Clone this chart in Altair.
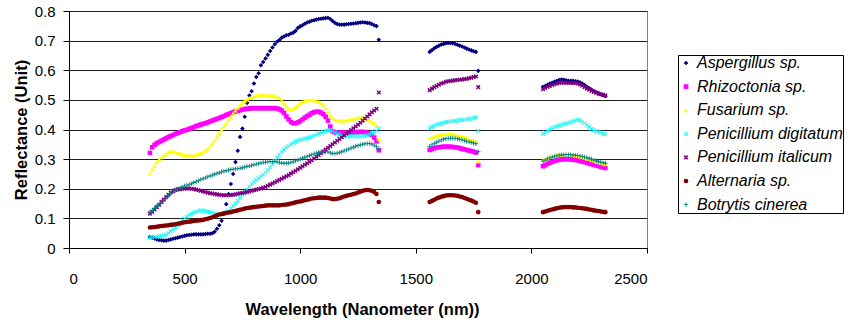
import altair as alt
import pandas as pd

# Spectral bands kept after removing the water-absorption regions
wl_vis = list(range(350, 1341, 10))     # 350-1340 nm
wl_swir1 = list(range(1560, 1771, 10))  # 1560-1770 nm
wl_swir2 = list(range(2050, 2321, 10))  # 2050-2320 nm

series_names = [
    "Aspergillus sp.",
    "Rhizoctonia sp.",
    "Fusarium sp.",
    "Penicillium digitatum",
    "Penicillium italicum",
    "Alternaria sp.",
    "Botrytis cinerea",
]

# Reflectance per fungus, one list per band
aspergillus_vis = [
    0.037, 0.035, 0.032, 0.029, 0.027, 0.026, 0.025, 0.025, 0.027, 0.029,
    0.031, 0.033, 0.035, 0.037, 0.039, 0.041, 0.043, 0.044, 0.045, 0.046,
    0.046, 0.046, 0.046, 0.046, 0.047, 0.048, 0.048, 0.050, 0.055, 0.065,
    0.077, 0.092, 0.115, 0.148, 0.182, 0.216, 0.250, 0.290, 0.328, 0.375,
    0.403, 0.443, 0.490, 0.515, 0.529, 0.555, 0.577, 0.590, 0.617, 0.628,
    0.640, 0.652, 0.665, 0.677, 0.688, 0.696, 0.702, 0.710, 0.714, 0.718,
    0.720, 0.724, 0.727, 0.733, 0.743, 0.748, 0.752, 0.757, 0.761, 0.764,
    0.767, 0.769, 0.771, 0.773, 0.774, 0.775, 0.776, 0.777, 0.773, 0.766,
    0.760, 0.756, 0.754, 0.754, 0.754, 0.755, 0.756, 0.757, 0.758, 0.759,
    0.760, 0.761, 0.762, 0.761, 0.760, 0.759, 0.756, 0.752, 0.749, 0.703,
]
aspergillus_swir1 = [
    0.662, 0.668, 0.674, 0.679, 0.683, 0.687, 0.689, 0.691, 0.692, 0.692,
    0.691, 0.689, 0.686, 0.683, 0.680, 0.677, 0.673, 0.670, 0.667, 0.664,
    0.662, 0.598,
]
aspergillus_swir2 = [
    0.544, 0.547, 0.551, 0.555, 0.558, 0.561, 0.564, 0.567, 0.569, 0.568,
    0.566, 0.564, 0.564, 0.564, 0.563, 0.562, 0.559, 0.555, 0.550, 0.544,
    0.539, 0.535, 0.530, 0.526, 0.522, 0.519, 0.516, 0.513,
]

rhizoctonia_vis = [
    0.321, 0.340, 0.348, 0.354, 0.358, 0.362, 0.366, 0.370, 0.374, 0.378,
    0.381, 0.385, 0.388, 0.391, 0.394, 0.397, 0.399, 0.402, 0.405, 0.408,
    0.411, 0.414, 0.417, 0.419, 0.421, 0.424, 0.427, 0.430, 0.433, 0.436,
    0.439, 0.442, 0.445, 0.449, 0.452, 0.455, 0.458, 0.461, 0.463, 0.465,
    0.467, 0.469, 0.470, 0.471, 0.472, 0.472, 0.472, 0.472, 0.472, 0.472,
    0.472, 0.472, 0.472, 0.472, 0.472, 0.471, 0.468, 0.464, 0.456, 0.444,
    0.434, 0.425, 0.421, 0.421, 0.424, 0.428, 0.434, 0.440, 0.445, 0.450,
    0.455, 0.458, 0.460, 0.460, 0.457, 0.452, 0.443, 0.430, 0.410, 0.394,
    0.390, 0.389, 0.389, 0.389, 0.389, 0.389, 0.389, 0.389, 0.389, 0.390,
    0.391, 0.392, 0.392, 0.391, 0.389, 0.386, 0.381, 0.373, 0.360, 0.330,
]
rhizoctonia_swir1 = [
    0.331, 0.334, 0.337, 0.339, 0.340, 0.341, 0.342, 0.342, 0.342, 0.342,
    0.341, 0.340, 0.339, 0.337, 0.335, 0.333, 0.331, 0.329, 0.327, 0.325,
    0.322, 0.280,
]
rhizoctonia_swir2 = [
    0.276, 0.280, 0.284, 0.288, 0.291, 0.294, 0.296, 0.298, 0.299, 0.300,
    0.300, 0.300, 0.299, 0.298, 0.297, 0.296, 0.294, 0.292, 0.290, 0.288,
    0.285, 0.283, 0.281, 0.279, 0.277, 0.274, 0.272, 0.270,
]

fusarium_vis = [
    0.251, 0.265, 0.278, 0.290, 0.299, 0.306, 0.312, 0.317, 0.322, 0.325,
    0.326, 0.325, 0.322, 0.319, 0.316, 0.314, 0.313, 0.313, 0.313, 0.314,
    0.315, 0.317, 0.320, 0.324, 0.329, 0.335, 0.343, 0.353, 0.364, 0.376,
    0.388, 0.399, 0.410, 0.421, 0.432, 0.443, 0.454, 0.464, 0.473, 0.481,
    0.489, 0.496, 0.502, 0.506, 0.509, 0.512, 0.514, 0.516, 0.517, 0.517,
    0.517, 0.516, 0.515, 0.514, 0.512, 0.509, 0.507, 0.498, 0.488, 0.478,
    0.470, 0.467, 0.470, 0.476, 0.483, 0.489, 0.494, 0.497, 0.499, 0.500,
    0.500, 0.499, 0.497, 0.494, 0.490, 0.484, 0.473, 0.460, 0.448, 0.438,
    0.433, 0.431, 0.430, 0.430, 0.430, 0.431, 0.432, 0.434, 0.436, 0.438,
    0.440, 0.440, 0.439, 0.437, 0.434, 0.431, 0.426, 0.420, 0.412, 0.368,
]
fusarium_swir1 = [
    0.370, 0.373, 0.376, 0.379, 0.381, 0.383, 0.384, 0.385, 0.385, 0.385,
    0.384, 0.383, 0.381, 0.379, 0.377, 0.374, 0.371, 0.368, 0.365, 0.362,
    0.359, 0.292,
]
fusarium_swir2 = [
    0.297, 0.300, 0.304, 0.307, 0.310, 0.312, 0.314, 0.315, 0.316, 0.316,
    0.316, 0.316, 0.315, 0.314, 0.313, 0.311, 0.309, 0.307, 0.305, 0.302,
    0.300, 0.297, 0.295, 0.292, 0.290, 0.287, 0.285, 0.283,
]

digitatum_vis = [
    0.036, 0.036, 0.037, 0.038, 0.039, 0.041, 0.043, 0.045, 0.050, 0.056,
    0.063, 0.070, 0.078, 0.085, 0.093, 0.100, 0.106, 0.112, 0.116, 0.120,
    0.123, 0.125, 0.127, 0.126, 0.125, 0.123, 0.121, 0.119, 0.117, 0.115,
    0.113, 0.113, 0.115, 0.120, 0.126, 0.134, 0.142, 0.151, 0.160, 0.170,
    0.180, 0.189, 0.198, 0.207, 0.215, 0.222, 0.229, 0.236, 0.242, 0.248,
    0.255, 0.262, 0.272, 0.283, 0.294, 0.305, 0.315, 0.324, 0.332, 0.339,
    0.345, 0.350, 0.355, 0.359, 0.362, 0.365, 0.367, 0.369, 0.371, 0.373,
    0.376, 0.379, 0.382, 0.386, 0.389, 0.392, 0.395, 0.397, 0.398, 0.395,
    0.390, 0.385, 0.381, 0.379, 0.378, 0.377, 0.377, 0.377, 0.377, 0.377,
    0.377, 0.377, 0.378, 0.379, 0.381, 0.383, 0.386, 0.390, 0.396, 0.404,
]
digitatum_swir1 = [
    0.404, 0.408, 0.412, 0.416, 0.419, 0.421, 0.423, 0.425, 0.426, 0.427,
    0.428, 0.429, 0.430, 0.431, 0.432, 0.433, 0.434, 0.436, 0.437, 0.439,
    0.441, 0.395,
]
digitatum_swir2 = [
    0.386, 0.390, 0.395, 0.400, 0.404, 0.408, 0.411, 0.414, 0.416, 0.418,
    0.420, 0.422, 0.425, 0.428, 0.431, 0.432, 0.431, 0.427, 0.421, 0.414,
    0.408, 0.402, 0.398, 0.395, 0.392, 0.389, 0.386, 0.384,
]

italicum_vis = [
    0.116, 0.122, 0.130, 0.138, 0.146, 0.155, 0.163, 0.172, 0.180, 0.187,
    0.192, 0.196, 0.198, 0.198, 0.200, 0.200, 0.201, 0.201, 0.200, 0.199,
    0.197, 0.195, 0.193, 0.191, 0.189, 0.187, 0.185, 0.184, 0.182, 0.181,
    0.180, 0.179, 0.178, 0.178, 0.178, 0.179, 0.180, 0.181, 0.183, 0.185,
    0.186, 0.187, 0.189, 0.191, 0.193, 0.195, 0.197, 0.199, 0.201, 0.203,
    0.206, 0.210, 0.214, 0.218, 0.222, 0.226, 0.230, 0.234, 0.238, 0.242,
    0.246, 0.251, 0.256, 0.261, 0.266, 0.271, 0.276, 0.281, 0.286, 0.291,
    0.296, 0.302, 0.308, 0.314, 0.320, 0.326, 0.332, 0.338, 0.344, 0.350,
    0.356, 0.362, 0.368, 0.374, 0.380, 0.386, 0.392, 0.398, 0.404, 0.410,
    0.416, 0.423, 0.430, 0.437, 0.444, 0.451, 0.458, 0.464, 0.470, 0.525,
]
italicum_swir1 = [
    0.533, 0.538, 0.543, 0.547, 0.551, 0.555, 0.558, 0.561, 0.563, 0.564,
    0.565, 0.566, 0.567, 0.568, 0.569, 0.570, 0.571, 0.573, 0.575, 0.577,
    0.579, 0.543,
]
italicum_swir2 = [
    0.536, 0.540, 0.544, 0.547, 0.550, 0.553, 0.555, 0.557, 0.558, 0.558,
    0.558, 0.557, 0.557, 0.557, 0.556, 0.555, 0.552, 0.548, 0.543, 0.538,
    0.534, 0.530, 0.527, 0.524, 0.521, 0.519, 0.517, 0.515,
]

alternaria_vis = [
    0.069, 0.070, 0.071, 0.072, 0.073, 0.074, 0.075, 0.076, 0.077, 0.078,
    0.079, 0.080, 0.082, 0.083, 0.085, 0.087, 0.088, 0.089, 0.090, 0.091,
    0.092, 0.093, 0.094, 0.095, 0.097, 0.099, 0.101, 0.104, 0.107, 0.110,
    0.113, 0.115, 0.117, 0.119, 0.120, 0.121, 0.123, 0.125, 0.127, 0.129,
    0.131, 0.133, 0.135, 0.136, 0.137, 0.138, 0.139, 0.140, 0.141, 0.142,
    0.143, 0.144, 0.144, 0.144, 0.144, 0.144, 0.144, 0.145, 0.146, 0.147,
    0.148, 0.150, 0.152, 0.154, 0.156, 0.157, 0.159, 0.161, 0.163, 0.165,
    0.167, 0.168, 0.169, 0.170, 0.170, 0.170, 0.170, 0.169, 0.167, 0.165,
    0.165, 0.166, 0.168, 0.171, 0.174, 0.176, 0.178, 0.180, 0.182, 0.184,
    0.187, 0.190, 0.193, 0.195, 0.196, 0.195, 0.193, 0.189, 0.182, 0.155,
]
alternaria_swir1 = [
    0.155, 0.159, 0.163, 0.167, 0.170, 0.173, 0.175, 0.177, 0.178, 0.178,
    0.178, 0.177, 0.176, 0.174, 0.172, 0.169, 0.166, 0.163, 0.160, 0.157,
    0.153, 0.121,
]
alternaria_swir2 = [
    0.121, 0.123, 0.126, 0.128, 0.130, 0.132, 0.134, 0.136, 0.137, 0.138,
    0.138, 0.138, 0.138, 0.137, 0.137, 0.136, 0.135, 0.134, 0.133, 0.132,
    0.130, 0.129, 0.127, 0.126, 0.125, 0.123, 0.122, 0.121,
]

botrytis_vis = [
    0.121, 0.127, 0.134, 0.141, 0.148, 0.155, 0.163, 0.170, 0.177, 0.184,
    0.190, 0.195, 0.199, 0.203, 0.206, 0.209, 0.212, 0.214, 0.217, 0.221,
    0.224, 0.227, 0.231, 0.234, 0.237, 0.240, 0.243, 0.246, 0.249, 0.252,
    0.254, 0.257, 0.259, 0.261, 0.263, 0.265, 0.266, 0.267, 0.268, 0.269,
    0.271, 0.273, 0.275, 0.277, 0.279, 0.281, 0.283, 0.285, 0.287, 0.289,
    0.290, 0.291, 0.292, 0.292, 0.292, 0.291, 0.289, 0.287, 0.286, 0.286,
    0.287, 0.289, 0.291, 0.294, 0.297, 0.300, 0.303, 0.306, 0.309, 0.312,
    0.315, 0.318, 0.320, 0.322, 0.324, 0.326, 0.326, 0.324, 0.321, 0.319,
    0.319, 0.320, 0.322, 0.325, 0.328, 0.331, 0.334, 0.337, 0.340, 0.343,
    0.346, 0.348, 0.350, 0.352, 0.353, 0.353, 0.351, 0.347, 0.342, 0.333,
]
botrytis_swir1 = [
    0.343, 0.348, 0.353, 0.357, 0.361, 0.364, 0.367, 0.369, 0.370, 0.371,
    0.371, 0.370, 0.369, 0.367, 0.365, 0.363, 0.360, 0.358, 0.356, 0.354,
    0.352, 0.325,
]
botrytis_swir2 = [
    0.293, 0.297, 0.301, 0.304, 0.307, 0.309, 0.311, 0.313, 0.314, 0.315,
    0.315, 0.315, 0.315, 0.314, 0.313, 0.312, 0.311, 0.309, 0.307, 0.305,
    0.302, 0.300, 0.297, 0.295, 0.292, 0.290, 0.288, 0.286,
]

series_values = [
    (aspergillus_vis, aspergillus_swir1, aspergillus_swir2),
    (rhizoctonia_vis, rhizoctonia_swir1, rhizoctonia_swir2),
    (fusarium_vis, fusarium_swir1, fusarium_swir2),
    (digitatum_vis, digitatum_swir1, digitatum_swir2),
    (italicum_vis, italicum_swir1, italicum_swir2),
    (alternaria_vis, alternaria_swir1, alternaria_swir2),
    (botrytis_vis, botrytis_swir1, botrytis_swir2),
]

# Long table: series in legend order so later series draw on top
rows = []
for name, bands in zip(series_names, series_values):
    for grid, vals in zip((wl_vis, wl_swir1, wl_swir2), bands):
        assert len(grid) == len(vals), name
        for w, v in zip(grid, vals):
            rows.append({"wavelength": w, "reflectance": v, "series": name})
df = pd.DataFrame(rows)

colors = ["#000080", "#FF00FF", "#FFFF00", "#00FFFF", "#800080", "#800000", "#008080"]

thin_x = "M-1,-0.75L-0.75,-1L0,-0.25L0.75,-1L1,-0.75L0.25,0L1,0.75L0.75,1L0,0.25L-0.75,1L-1,0.75L-0.25,0Z"
bold_x = "M-1,-0.55L-0.55,-1L0,-0.45L0.55,-1L1,-0.55L0.45,0L1,0.55L0.55,1L0,0.45L-0.55,1L-1,0.55L-0.45,0Z"
thin_plus = "M-1,-0.18L-0.18,-0.18L-0.18,-1L0.18,-1L0.18,-0.18L1,-0.18L1,0.18L0.18,0.18L0.18,1L-0.18,1L-0.18,0.18L-1,0.18Z"
shapes = ["diamond", "square", "triangle-up", thin_x, bold_x, "circle", thin_plus]

font = "Liberation Sans"

legend = alt.Legend(
    title=None,
    orient="none",
    legendX=609,
    legendY=44,
    labelFont=font,
    labelFontSize=16,
    labelFontStyle="italic",
    labelColor="black",
    labelLimit=400,
    labelOffset=3,
    symbolSize=22,
    symbolStrokeWidth=0,
    symbolOpacity=1,
    rowPadding=7.6,
    padding=0,
    strokeColor="black",
    fillColor="white",
)

chart = (
    alt.Chart(df)
    .mark_point(filled=True, size=21, opacity=1, strokeWidth=0)
    .encode(
        x=alt.X(
            "wavelength:Q",
            scale=alt.Scale(domain=[0, 2500], nice=False, zero=False),
            axis=alt.Axis(
                values=[0, 500, 1000, 1500, 2000, 2500],
                format="d",
                title="Wavelength (Nanometer (nm))",
                titleFont=font,
                titleFontSize=16.5,
                titleFontWeight="bold",
                titleColor="black",
                titleX=293,
                titleY=66,
                titleBaseline="alphabetic",
                titleAlign="center",
                labelFont=font,
                labelFontSize=15,
                labelColor="black",
                labelPadding=18,
                tickSize=5,
                tickColor="black",
                domainColor="black",
                grid=False,
            ),
        ),
        y=alt.Y(
            "reflectance:Q",
            scale=alt.Scale(domain=[0, 0.8], nice=False),
            axis=alt.Axis(
                values=[0, 0.1, 0.2, 0.3, 0.4, 0.5, 0.6, 0.7, 0.8],
                format=".1~f",
                title="Reflectance (Unit)",
                titleFont=font,
                titleFontSize=16.5,
                titleFontWeight="bold",
                titleColor="black",
                titleAngle=270,
                titleX=-47.5,
                titleY=118.5,
                titleBaseline="middle",
                titleAlign="center",
                labelFont=font,
                labelFontSize=15,
                labelColor="black",
                labelPadding=8,
                tickSize=6,
                tickColor="black",
                domainColor="black",
                grid=True,
                gridColor="#202020",
                gridWidth=1,
            ),
        ),
        color=alt.Color(
            "series:N",
            scale=alt.Scale(domain=series_names, range=colors),
            legend=legend,
        ),
        shape=alt.Shape(
            "series:N",
            scale=alt.Scale(domain=series_names, range=shapes),
            legend=legend,
        ),
    )
    .properties(
        width=578,
        height=237,
        autosize=alt.AutoSizeParams(type="none"),
        padding={"left": 69, "top": 11, "right": 201, "bottom": 72},
        background="white",
    )
    .configure_view(stroke="#808080", strokeWidth=1)
)

chart.save("out.html", embed_options={"renderer": "svg", "actions": False})
